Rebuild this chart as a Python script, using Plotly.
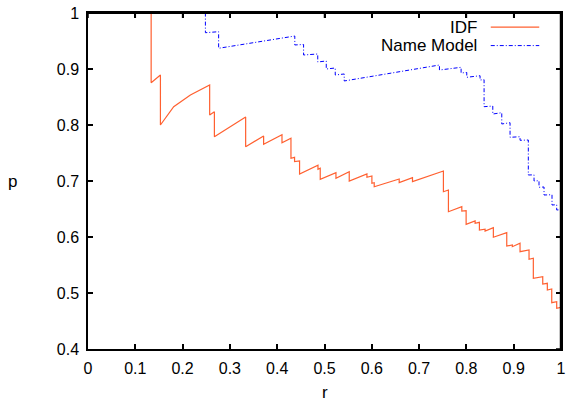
import plotly.graph_objects as go

# IDF precision-recall curve (vertices)
idf_r = [0.0, 0.1335, 0.1335, 0.1531, 0.1531, 0.1812, 0.2165, 0.2572, 0.2572, 0.2672, 0.2672,
         0.3333, 0.3333, 0.3713, 0.3713, 0.4101, 0.4101, 0.4291, 0.4291, 0.4367, 0.4367,
         0.4473, 0.4473, 0.4862, 0.4862, 0.4910, 0.4910, 0.5242, 0.5242, 0.5523, 0.5523,
         0.5897, 0.5897, 0.6002, 0.6002, 0.6051, 0.6051, 0.6579, 0.6579, 0.6860, 0.6860,
         0.7514, 0.7514, 0.7620, 0.7620, 0.7903, 0.7903, 0.7994, 0.7994, 0.8184, 0.8184,
         0.8275, 0.8275, 0.8395, 0.8395, 0.8570, 0.8570, 0.8853, 0.8853, 0.8971, 0.8971,
         0.9134, 0.9134, 0.9324, 0.9324, 0.9415, 0.9415, 0.9614, 0.9614, 0.9711, 0.9711,
         0.9804, 0.9804, 0.9909, 0.9909, 1.0, 1.0]
idf_p = [1.0, 1.0, 0.8755, 0.8893, 0.8000, 0.8327, 0.8536, 0.8714, 0.8179, 0.8238, 0.7791,
         0.8143, 0.7613, 0.7804, 0.7655, 0.7827, 0.7684, 0.7763, 0.7405, 0.7423, 0.7345,
         0.7357, 0.7125, 0.7280, 0.7209, 0.7227, 0.7030, 0.7148, 0.7048, 0.7166, 0.7000,
         0.7125, 0.7066, 0.7089, 0.6959, 0.6970, 0.6898, 0.7036, 0.6970, 0.7059, 0.6988,
         0.7179, 0.6809, 0.6839, 0.6452, 0.6541, 0.6464, 0.6470, 0.6227, 0.6286, 0.6245,
         0.6262, 0.6125, 0.6138, 0.6107, 0.6166, 0.5995, 0.6077, 0.5839, 0.5857, 0.5827,
         0.5888, 0.5738, 0.5768, 0.5602, 0.5620, 0.5263, 0.5291, 0.5161, 0.5173, 0.5054,
         0.5071, 0.4827, 0.4845, 0.4727, 0.4745, 0.4745, 0.4161]

# Name Model precision-recall curve
nm_r = [0.0, 0.2482, 0.2482, 0.2762, 0.2762, 0.4372, 0.4372, 0.4558, 0.4558, 0.4857, 0.4857,
        0.5037, 0.5037, 0.5227, 0.5227, 0.5417, 0.5417, 0.7430, 0.7430, 0.7888, 0.7888,
        0.8008, 0.8008, 0.8289, 0.8289, 0.8374, 0.8374, 0.8558, 0.8558, 0.8748, 0.8748,
        0.8923, 0.8923, 0.9134, 0.9134, 0.9309, 0.9309, 0.9430, 0.9430, 0.9535, 0.9535,
        0.9641, 0.9641, 0.9810, 0.9810, 0.9909, 0.9909, 1.0]
nm_p = [1.0, 1.0, 0.9648, 0.9666, 0.9370, 0.9589, 0.9429, 0.9438, 0.9250, 0.9268, 0.9125,
        0.9143, 0.9000, 0.9018, 0.8893, 0.8911, 0.8786, 0.9071, 0.8982, 0.9030, 0.8929,
        0.8938, 0.8852, 0.8880, 0.8804, 0.8809, 0.8327, 0.8339, 0.8196, 0.8220, 0.8018,
        0.8041, 0.7780, 0.7791, 0.7727, 0.7732, 0.7107, 0.7110, 0.7000, 0.7005, 0.6888,
        0.6893, 0.6750, 0.6755, 0.6571, 0.6577, 0.6482, 0.6488]

x_ticks = [0, 0.1, 0.2, 0.3, 0.4, 0.5, 0.6, 0.7, 0.8, 0.9, 1]
x_tick_labels = ["0", "0.1", "0.2", "0.3", "0.4", "0.5", "0.6", "0.7", "0.8", "0.9", "1"]
y_ticks = [0.4, 0.5, 0.6, 0.7, 0.8, 0.9, 1]
y_tick_labels = ["0.4", "0.5", "0.6", "0.7", "0.8", "0.9", "1"]
series_names = ["IDF", "Name Model"]

IDF_COLOR = "#ff6030"
NM_COLOR = "#0000ff"
NM_DASH = "4px,2px,1px,2px"
FONT = "Liberation Sans, Arial, sans-serif"

fig = go.Figure()
fig.add_trace(go.Scatter(x=idf_r, y=idf_p, mode="lines", name=series_names[0],
                         line=dict(color=IDF_COLOR, width=1.2), cliponaxis=False))
fig.add_trace(go.Scatter(x=nm_r, y=nm_p, mode="lines", name=series_names[1],
                         line=dict(color=NM_COLOR, width=1, dash=NM_DASH), cliponaxis=False))

axis_common = dict(showline=True, linecolor="black", linewidth=1.5, mirror="allticks",
                   ticks="inside", ticklen=5, tickcolor="black", tickwidth=1.5,
                   showgrid=False, zeroline=False, automargin=False,
                   ticklabeloverflow="allow",
                   tickfont=dict(family=FONT, size=16, color="black"))

fig.update_layout(
    width=568, height=403,
    margin=dict(l=88, r=7, t=13, b=54, autoexpand=False),
    paper_bgcolor="white", plot_bgcolor="white",
    showlegend=False,
    xaxis=dict(range=[0, 1], tickvals=x_ticks, ticktext=x_tick_labels, ticklabelstandoff=4,
               **axis_common),
    yaxis=dict(range=[0.4, 1], tickvals=y_ticks, ticktext=y_tick_labels, ticklabelstandoff=4,
               **axis_common),
)

# plot frame: top and right edges, drawn just inside the plot area
frame = dict(color="black", width=1.5)
fig.add_shape(type="line", xref="paper", yref="paper", x0=0, x1=1, y0=0.999, y1=0.999,
              line=frame, layer="above")
fig.add_shape(type="line", xref="paper", yref="paper", x0=0.999, x1=0.999, y0=0, y1=1,
              line=frame, layer="above")
# mirrored inside ticks on the top and right edges
for t in x_ticks:
    fig.add_shape(type="line", xref="x", x0=t, x1=t, yref="paper", ysizemode="pixel",
                  yanchor=1, y0=0, y1=-5, line=frame, layer="above")
for t in y_ticks:
    fig.add_shape(type="line", yref="y", y0=t, y1=t, xref="paper", xsizemode="pixel",
                  xanchor=1, x0=0, x1=-5, line=frame, layer="above")

# gnuplot-style key: text right-aligned, sample line to its right
key_rows = [(0.958, IDF_COLOR, "solid", 1.2), (0.903, NM_COLOR, NM_DASH, 1)]
for name, (yk, col, dash, w) in zip(series_names, key_rows):
    fig.add_annotation(xref="paper", yref="paper", x=0.8275, y=yk, text=name,
                       showarrow=False, xanchor="right", yanchor="middle",
                       font=dict(family=FONT, size=17, color="black"))
    fig.add_shape(type="line", xref="paper", yref="paper", x0=0.8515, x1=0.954,
                  y0=yk, y1=yk, line=dict(color=col, width=w, dash=dash))

# axis labels
fig.add_annotation(xref="paper", yref="paper", x=-0.159, y=0.5, text="p", showarrow=False,
                   xanchor="center", yanchor="middle", font=dict(family=FONT, size=17, color="black"))
fig.add_annotation(xref="paper", yref="paper", x=0.5, y=-0.128, text="r", showarrow=False,
                   xanchor="center", yanchor="middle", font=dict(family=FONT, size=17, color="black"))

# the page body has a default 8px margin; remove it so the figure fills the window exactly
fig.write_html("out.html", config={"displayModeBar": False},
               post_script="document.body.style.margin='0';")
